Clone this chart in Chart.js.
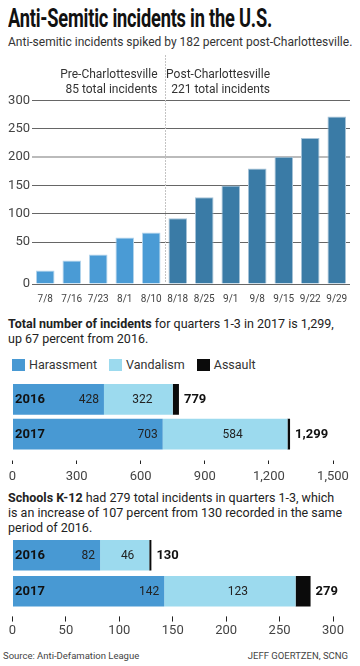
<!DOCTYPE html>
<html lang="en">
<head>
<meta charset="UTF-8">
<title>Anti-Semitic incidents in the U.S.</title>
<script src="https://cdn.jsdelivr.net/npm/chart.js"></script>
<style>
  body { margin: 0; background: #fff; font-family: Roboto, "Noto Sans", sans-serif; color: #222; }
  .page { position: relative; width: 360px; height: 666px; overflow: hidden; }
  .page canvas, .page .abs { position: absolute; }
  h1 {
    position: absolute; left: 8px; top: 3px; margin: 0; white-space: nowrap;
    font-family: Roboto, sans-serif; font-weight: bold; font-size: 26px; color: #111;
    letter-spacing: -0.3px; transform-origin: 0 0;
  }
  .sub { left: 8px; top: 35px; font-size: 12px; color: #333; white-space: nowrap; }
  .note { left: 8px; font-size: 12.5px; line-height: 15px; color: #222; white-space: nowrap; }
  .legend { left: 12px; top: 357px; font-size: 12.5px; color: #333; display: flex; }
  .legend span { display: inline-flex; align-items: center; margin-right: 12px; }
  .legend i { display: inline-block; width: 13px; height: 12px; margin-right: 4px; }
  .foot { top: 650px; font-size: 9.5px; color: #444; }
</style>
</head>
<body>
<div class="page">
  <h1 id="title">Anti-Semitic incidents in the U.S.</h1>
  <div class="abs sub">Anti-semitic incidents spiked by 182 percent post-Charlottesville.</div>

  <canvas id="weekly" width="360" height="260" style="left:0;top:50px"></canvas>

  <div class="abs note" style="top:316px"><b>Total number of incidents</b> for quarters 1-3 in 2017 is 1,299,<br>up 67 percent from 2016.</div>
  <div class="abs legend" id="legend"></div>
  <canvas id="totals" width="360" height="110" style="left:0;top:375px"></canvas>

  <div class="abs note" style="top:490px"><b>Schools K-12</b> had 279 total incidents in quarters 1-3, which<br>is an increase of 107 percent from 130 recorded in the same<br>period of 2016.</div>
  <canvas id="schools" width="360" height="110" style="left:0;top:530px"></canvas>

  <div class="abs foot" style="left:3px">Source: Anti-Defamation League</div>
  <div class="abs foot" style="right:12px">JEFF GOERTZEN, SCNG</div>
</div>

<script>
// weekly incidents
const weeks = ['7/8', '7/16', '7/23', '8/1', '8/10', '8/18', '8/25', '9/1', '9/8', '9/15', '9/22', '9/29'];
const weeklyIncidents = [16, 28, 35, 58, 67, 92, 129, 150, 180, 201, 234, 272];
const preWeeks = 5; // 7/8 .. 8/10 are before Charlottesville
const periodNotes = [
  ['Pre-Charlottesville', '85 total incidents'],
  ['Post-Charlottesville', '221 total incidents']
];

// quarters 1-3 totals
const years = ['2016', '2017'];
const seriesNames = ['Harassment', 'Vandalism', 'Assault'];
const seriesColors = ['#4899d3', '#9cdaee', '#0b0b0b'];
const allHarassment = [428, 703];
const allVandalism = [322, 584];
const allAssault = [29, 12];
const allTotals = [779, 1299];
const allTicks = [0, 300, 600, 900, 1200, 1500];

// schools K-12
const schoolHarassment = [82, 142];
const schoolVandalism = [46, 123];
const schoolAssault = [2, 14];
const schoolTotals = [130, 279];
const schoolTicks = [0, 50, 100, 150, 200, 250, 300];

const PRE_COLOR = '#4a9bd5';
const POST_COLOR = '#3a7ba6';
const FONT = 'Roboto, "Noto Sans", sans-serif';

// no condensed face installed, so squeeze the title to the original width
const title = document.getElementById('title');
title.style.transform = `scaleX(${264 / title.getBoundingClientRect().width})`;

// the 0-50 band is drawn taller than the others in the original graphic
const KINK_VALUE = 50;
const KINK_SHARE = 42 / 183.3;
class KinkScale extends Chart.LinearScale {
  getPixelForValue(value) {
    if (value === null || isNaN(value)) return NaN;
    let f;
    if (value <= KINK_VALUE) f = (value - this.min) / (KINK_VALUE - this.min) * KINK_SHARE;
    else f = KINK_SHARE + (value - KINK_VALUE) / (this.max - KINK_VALUE) * (1 - KINK_SHARE);
    return this.getPixelForDecimal(f);
  }
  getValueForPixel(pixel) {
    const f = this.getDecimalForPixel(pixel);
    if (f <= KINK_SHARE) return this.min + f / KINK_SHARE * (KINK_VALUE - this.min);
    return KINK_VALUE + (f - KINK_SHARE) / (1 - KINK_SHARE) * (this.max - KINK_VALUE);
  }
}
KinkScale.id = 'kink';
KinkScale.defaults = Chart.LinearScale.defaults;
Chart.register(KinkScale);

const dividerPlugin = {
  id: 'divider',
  afterDraw(chart) {
    const { ctx, chartArea, scales: { x } } = chart;
    const xPos = Math.round((x.getPixelForValue(preWeeks - 1) + x.getPixelForValue(preWeeks)) / 2) + 0.5;
    ctx.save();
    ctx.strokeStyle = '#c4c4c4';
    ctx.lineWidth = 1;
    ctx.setLineDash([2, 1]);
    ctx.beginPath();
    ctx.moveTo(xPos, 5);
    ctx.lineTo(xPos, chartArea.bottom - 2);
    ctx.stroke();
    ctx.setLineDash([]);
    ctx.font = '12px ' + FONT;
    ctx.fillStyle = '#333';
    ctx.textAlign = 'right';
    ctx.textBaseline = 'alphabetic';
    ctx.fillText(periodNotes[0][0], xPos - 8, 27.5);
    ctx.fillText(periodNotes[0][1], xPos - 8, 43);
    ctx.fillText(periodNotes[1][0], 270, 27.5);
    ctx.fillText(periodNotes[1][1], 270, 43);
    ctx.restore();
  }
};

new Chart(document.getElementById('weekly'), {
  type: 'bar',
  data: {
    labels: weeks,
    datasets: [{
      data: weeklyIncidents,
      backgroundColor: weeks.map((w, i) => i < preWeeks ? PRE_COLOR : POST_COLOR),
      borderColor: weeks.map((w, i) => i < preWeeks ? '#b3d4ec' : '#a6c3d8'),
      borderWidth: 1,
      barPercentage: 0.7,
      categoryPercentage: 1
    }]
  },
  options: {
    responsive: false,
    animation: false,
    layout: { padding: { top: 50.7, right: 10, left: 0, bottom: 0 } },
    plugins: { legend: { display: false }, tooltip: { enabled: false } },
    scales: {
      x: {
        grid: { display: false },
        border: { display: false },
        ticks: { color: '#444', font: { size: 10, family: FONT }, padding: 1, autoSkip: false, maxRotation: 0 },
        afterFit(s) { s.height = 26; }
      },
      y: {
        type: 'kink',
        min: 0,
        max: 300,
        z: 1,
        border: { display: false },
        ticks: { stepSize: 50, color: '#444', font: { size: 13, family: FONT }, padding: 2 },
        grid: {
          drawTicks: false,
          color: c => c.tick.value === 200 ? 'rgba(150,150,150,0.65)' : 'rgba(0,0,0,0.6)',
          lineWidth: c => c.tick.value === 200 ? 2 : 1
        },
        afterFit(s) { s.width = 32; }
      }
    }
  },
  plugins: [dividerPlugin]
});

// legend for the stacked bars
document.getElementById('legend').innerHTML = seriesNames
  .map((n, i) => `<span><i style="background:${seriesColors[i]}"></i>${n}</span>`).join('');

function stackLabels(totals) {
  return {
    id: 'stackLabels',
    afterDatasetsDraw(chart) {
      const { ctx } = chart;
      const mh = chart.getDatasetMeta(0), mv = chart.getDatasetMeta(1), ma = chart.getDatasetMeta(2);
      ctx.save();
      ctx.textBaseline = 'middle';
      chart.data.labels.forEach((yr, i) => {
        const h = mh.data[i], v = mv.data[i], a = ma.data[i];
        const y = h.y + 0.5;
        ctx.fillStyle = '#111';
        ctx.font = 'bold 13px ' + FONT;
        ctx.textAlign = 'left';
        ctx.fillText(yr, h.base + 2, y);
        ctx.fillText(totals[i].toLocaleString('en-US'), a.x + 5, y);
        ctx.font = '12px ' + FONT;
        ctx.fillStyle = '#222';
        ctx.textAlign = 'right';
        ctx.fillText(chart.data.datasets[0].data[i], h.x - 5, y);
        ctx.textAlign = 'center';
        ctx.fillText(chart.data.datasets[1].data[i], v.base + (v.x - v.base) * 0.56, y);
      });
      ctx.restore();
    }
  };
}

function stackedChart(id, values, totals, ticks, padTop, axisH, tickGap, tickLen, barPct, labelPad) {
  return new Chart(document.getElementById(id), {
    type: 'bar',
    data: {
      labels: years,
      datasets: values.map((d, i) => ({
        label: seriesNames[i],
        data: d,
        backgroundColor: seriesColors[i],
        barPercentage: barPct,
        categoryPercentage: 1
      }))
    },
    options: {
      indexAxis: 'y',
      responsive: false,
      animation: false,
      layout: { padding: { top: padTop, left: 12.5, right: 27, bottom: 0 } },
      plugins: { legend: { display: false }, tooltip: { enabled: false } },
      scales: {
        x: {
          stacked: true,
          min: ticks[0],
          max: ticks[ticks.length - 1],
          border: { display: false },
          grid: {
            drawOnChartArea: false,
            tickLength: tickGap + tickLen,
            tickBorderDash: [0, tickGap, tickLen],
            tickColor: '#222',
            tickWidth: 1
          },
          ticks: {
            stepSize: ticks[1] - ticks[0],
            color: '#444',
            font: { size: 13, family: FONT },
            padding: labelPad,
            maxRotation: 0
          },
          afterFit(s) { s.height = axisH; }
        },
        y: { stacked: true, display: false }
      }
    },
    plugins: [stackLabels(totals)]
  });
}

stackedChart('totals', [allHarassment, allVandalism, allAssault], allTotals, allTicks, 7, 33.5, 8.5, 4, 0.88, 5);
stackedChart('schools', [schoolHarassment, schoolVandalism, schoolAssault], schoolTotals, schoolTicks, 7.3, 30.7, 7.4, 5, 0.85, 1);
</script>
</body>
</html>
